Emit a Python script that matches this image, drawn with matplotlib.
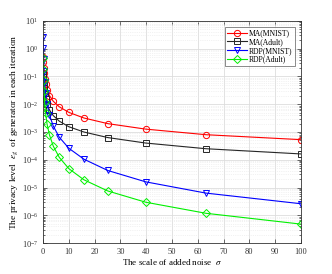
import matplotlib
matplotlib.use('Agg')
import matplotlib.pyplot as plt
from matplotlib.ticker import LogLocator, MultipleLocator, NullFormatter

plt.rcParams['font.family'] = ['Liberation Serif', 'DejaVu Serif']
plt.rcParams['mathtext.fontset'] = 'stix'

# noise scale sigma
sigma = [0.1, 0.158, 0.251, 0.398, 0.631, 1.0, 1.585, 2.512, 3.981, 6.31,
         10, 15.85, 25.12, 39.81, 63.1, 100]

ma_mnist = [0.52, 0.33, 0.205, 0.13, 0.082, 0.052, 0.033, 0.0205, 0.0128, 0.0081,
            0.0051, 0.0032, 0.002, 0.00127, 0.0008, 0.00053]
ma_adult = [0.155, 0.098, 0.062, 0.039, 0.0246, 0.0155, 0.0098, 0.0062, 0.0039, 0.00246,
            0.00155, 0.001, 0.00063, 0.0004, 0.00025, 0.000162]
rdp_mnist = [2.6, 1.04, 0.41, 0.164, 0.065, 0.026, 0.0104, 0.0041, 0.00164, 0.00065,
             0.00026, 0.000105, 4.1e-5, 1.6e-5, 6.3e-6, 2.6e-6]
rdp_adult = [0.48, 0.19, 0.076, 0.030, 0.012, 0.0048, 0.0019, 0.00078, 0.00031, 0.000122,
             4.8e-5, 1.9e-5, 7.5e-6, 2.95e-6, 1.18e-6, 4.8e-7]

fig = plt.figure(figsize=(3.32, 2.74), dpi=100)
ax = fig.add_axes([0.1295, 0.1131, 0.777, 0.8103])

ms = 4.5
lw = 0.8
ax.plot(sigma, ma_mnist, color='#ff0000', marker='o', mfc='none', ms=ms, lw=lw, mew=0.7, label='MA(MNIST)')
ax.plot(sigma, ma_adult, color='#262626', marker='s', mfc='none', ms=ms - 0.5, lw=lw, mew=0.7, label='MA(Adult)')
ax.plot(sigma, rdp_mnist, color='#0000ff', marker='v', mfc='none', ms=ms + 0.5, lw=lw, mew=0.7, label='RDP(MNIST)')
ax.plot(sigma, rdp_adult, color='#00f000', marker='D', mfc='none', ms=ms - 0.5, lw=lw, mew=0.7, label='RDP(Adult)')

ax.set_yscale('log')
ax.set_xlim(0, 100)
ax.set_ylim(1e-7, 1e1)
ax.xaxis.set_major_locator(MultipleLocator(10))
ax.yaxis.set_major_locator(LogLocator(base=10, numticks=20))
ax.yaxis.set_minor_locator(LogLocator(base=10, subs=range(2, 10), numticks=20))
ax.yaxis.set_minor_formatter(NullFormatter())

ax.grid(True, which='major', color='#dddddd', lw=0.6)
ax.grid(True, which='minor', axis='y', color='#e6e6e6', lw=0.5, ls=':')
ax.tick_params(which='both', direction='in', top=True, right=True, labelsize=6, colors='#333333',
               width=0.5)
ax.tick_params(which='major', length=3)
ax.tick_params(which='minor', length=1.5)
for s in ax.spines.values():
    s.set_linewidth(0.6)
    s.set_color('#333333')

ax.set_xlabel(r'The scale of added noise  $\sigma$', fontsize=6.5, labelpad=1)
ax.set_ylabel(r'The privacy level  $\epsilon_g$  of generator in each iteration', fontsize=6.8, labelpad=1)

leg = ax.legend(loc='upper right', fontsize=5.5, frameon=True, fancybox=False,
                edgecolor='#555555', handlelength=2.6, borderpad=0.3, labelspacing=0.1,
                handletextpad=0.3, borderaxespad=0.8)
leg.get_frame().set_linewidth(0.6)

fig.savefig('out.png', dpi=100)
